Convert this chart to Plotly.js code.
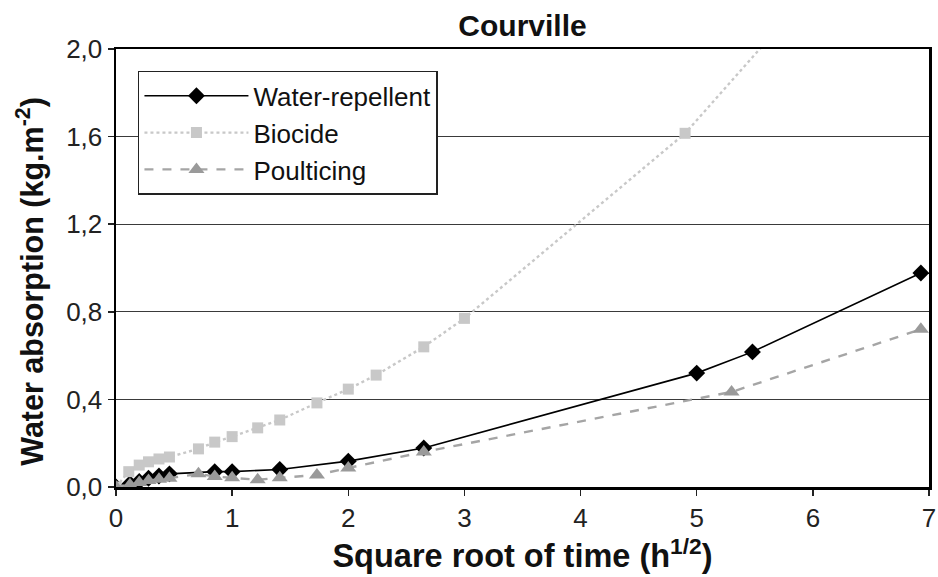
<!DOCTYPE html>
<html>
<head>
<meta charset="utf-8">
<script src="https://cdn.plot.ly/plotly-3.0.1.min.js"></script>
<style>html,body{margin:0;padding:0;background:#fff;}#chart{width:938px;height:577px;}</style>
</head>
<body>
<div id="chart"></div>
<script>
// Square root of time (h^1/2) and water absorption (kg.m-2)
const wrX = [0, 0.12, 0.2, 0.28, 0.37, 0.46, 0.85, 1.0, 1.41, 2.0, 2.65, 5.0, 5.48, 6.93];
const wrY = [0, 0.015, 0.025, 0.04, 0.05, 0.06, 0.07, 0.07, 0.08, 0.118, 0.178, 0.52, 0.617, 0.977];

const bioX = [0, 0.11, 0.2, 0.28, 0.37, 0.46, 0.71, 0.85, 1.0, 1.22, 1.41, 1.73, 2.0, 2.24, 2.65, 3.0, 4.9, 6.93];
const bioY = [0, 0.07, 0.1, 0.115, 0.128, 0.137, 0.174, 0.205, 0.23, 0.27, 0.306, 0.384, 0.447, 0.511, 0.64, 0.77, 1.615, 2.83];

const poX = [0, 0.12, 0.2, 0.28, 0.37, 0.46, 0.71, 0.85, 1.0, 1.22, 1.41, 1.73, 2.0, 2.65, 5.3, 6.93];
const poY = [0, 0.01, 0.02, 0.03, 0.035, 0.04, 0.06, 0.048, 0.042, 0.033, 0.042, 0.055, 0.087, 0.16, 0.434, 0.72];

const seriesNames = ["Water-repellent", "Biocide", "Poulticing"];
const yTicks = [0, 0.4, 0.8, 1.2, 1.6, 2.0];
const xTicks = [0, 1, 2, 3, 4, 5, 6, 7];
const yTitle = '<b>Water absorption (kg.m<sup>-2</sup>)</b>';
const xTitle = '<b>Square root of time (h<sup>1/2</sup>)</b>';

const traces = [
  {x: wrX, y: wrY, name: seriesNames[0], type: 'scatter', mode: 'lines+markers',
   line: {color: '#000000', width: 1.6},
   marker: {symbol: 'diamond', size: 13, color: '#000000'}},
  {x: bioX, y: bioY, name: seriesNames[1], type: 'scatter', mode: 'lines+markers',
   line: {color: '#c8c8c8', width: 2.4, dash: 'dot'},
   marker: {symbol: 'square', size: 11, color: '#c8c8c8'}},
  {x: poX, y: poY, name: seriesNames[2], type: 'scatter', mode: 'lines+markers',
   line: {color: '#a5a5a5', width: 2.4, dash: 'dash'},
   marker: {symbol: 'triangle-up', size: 14, color: '#9a9a9a'}}
];

const font = 'Liberation Sans, Arial, sans-serif';

const layout = {
  width: 938, height: 577,
  margin: {l: 116, r: 9, t: 49, b: 90},
  paper_bgcolor: '#ffffff', plot_bgcolor: '#ffffff',
  separators: ',.',
  font: {family: font, color: '#222222', size: 26},
  title: {text: '<b>Courville</b>', xref: 'paper', x: 0.5, xanchor: 'center', y: 0.955, yanchor: 'middle',
          font: {family: font, size: 30, color: '#111111'}},
  showlegend: true,
  legend: {x: 0.027, y: 0.95, xanchor: 'left', yanchor: 'top',
           bgcolor: '#ffffff', bordercolor: '#222222', borderwidth: 1.5,
           font: {family: font, size: 26, color: '#111111'},
           itemwidth: 104, tracegroupgap: 0},
  xaxis: {
    range: [0, 7], tickvals: xTicks, ticktext: xTicks.map(String),
    showgrid: false, zeroline: false,
    showline: true, linecolor: '#000000', linewidth: 2.5, mirror: true,
    ticks: 'outside', ticklen: 6, tickwidth: 1.5, tickcolor: '#222222',
    tickfont: {family: font, size: 26, color: '#222222'},
    title: {text: xTitle, standoff: 11,
            font: {family: font, size: 32.5, color: '#111111'}}
  },
  yaxis: {
    range: [0, 2.0], tickvals: yTicks, tickformat: '.1f',
    showgrid: true, gridcolor: '#3a3a3a', gridwidth: 1.3, zeroline: false,
    showline: true, linecolor: '#000000', linewidth: 2.5, mirror: true,
    ticks: 'outside', ticklen: 6, tickwidth: 1.5, tickcolor: '#222222',
    tickfont: {family: font, size: 26, color: '#222222'}
  },
  annotations: [{
    text: yTitle, textangle: -90, showarrow: false,
    xref: 'paper', yref: 'paper', x: -0.105, y: 0.47, xanchor: 'center', yanchor: 'middle',
    font: {family: font, size: 30.5, color: '#111111'}
  }]
};

Plotly.newPlot('chart', traces, layout, {displayModeBar: false, staticPlot: true});
</script>
</body>
</html>
